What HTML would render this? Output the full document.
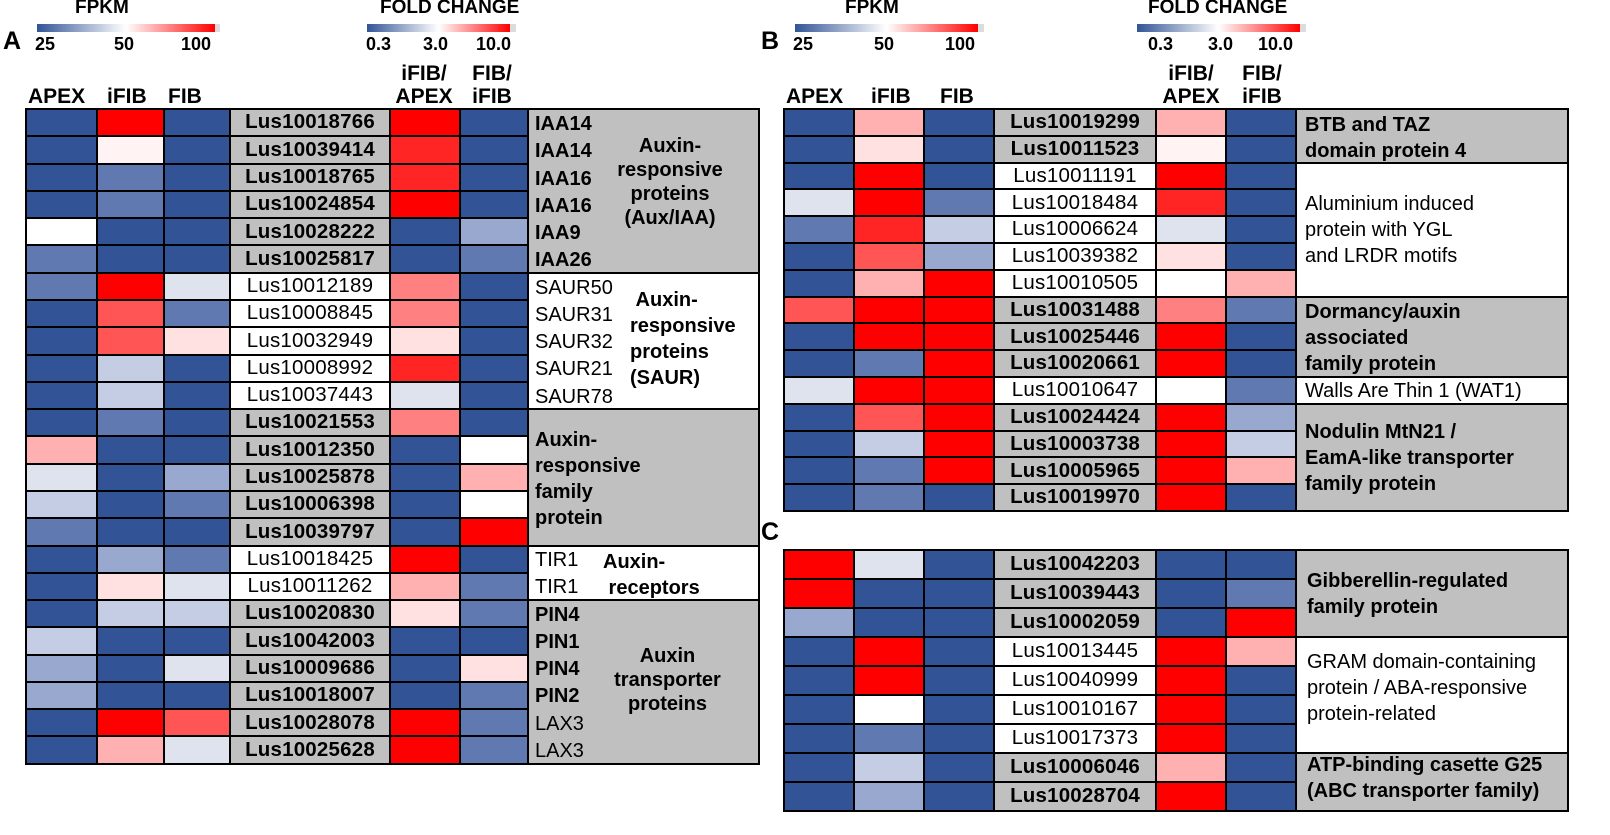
<!DOCTYPE html>
<html><head><meta charset="utf-8"><style>
body{margin:0;width:1610px;height:835px;background:#fff;position:relative;overflow:hidden;font-family:"Liberation Sans",Arial,sans-serif;color:#000}
.a{position:absolute;white-space:nowrap}
.b{font-weight:bold}
table{position:absolute;border-collapse:collapse;table-layout:fixed;border:2px solid #000}
td{border:2px solid #000;padding:0;text-align:center;font-size:20.5px;letter-spacing:.2px;line-height:1}
.d{background:#325496}.m{background:#6079b0}.l{background:#98a8cf}.k{background:#c4cde3}.e{background:#dfe3ee}.w{background:#fff}
.p{background:#ffe1e1}.q{background:#ffb0b0}.s{background:#ff5555}.r{background:#ff0000}.t{background:#ff2525}.u{background:#ff8080}.v{background:#fff3f3}
.g{background:#c0c0c0;font-weight:bold}.n{background:#fff;font-weight:normal}
.bar1{position:absolute;height:8px;background:linear-gradient(to right,#325496,#fff 50%,#ff0000)}
.t20{font-size:20px}
.lines div{height:27.25px;line-height:27.25px}
</style></head><body>

<!-- Legends A -->
<div class="a b" style="left:75px;top:-3px;font-size:19px">FPKM</div>
<div class="bar1" style="left:37px;top:24px;width:178px"></div><div class="a" style="left:215px;top:24px;width:5px;height:8px;background:#dcdcdc"></div>
<div class="a b" style="left:35px;top:34px;font-size:18px">25</div>
<div class="a b" style="left:114px;top:34px;font-size:18px">50</div>
<div class="a b" style="left:181px;top:34px;font-size:18px">100</div>
<div class="a b" style="left:380px;top:-3px;font-size:19px">FOLD CHANGE</div>
<div class="bar1" style="left:367px;top:24px;width:143px"></div><div class="a" style="left:510px;top:24px;width:6px;height:8px;background:#dcdcdc"></div>
<div class="a b" style="left:366px;top:34px;font-size:18px">0.3</div>
<div class="a b" style="left:423px;top:34px;font-size:18px">3.0</div>
<div class="a b" style="left:476px;top:34px;font-size:18px">10.0</div>
<div class="a b" style="left:3px;top:27px;font-size:25px">A</div>
<div class="a b" style="left:28px;top:85px;font-size:21px">APEX</div>
<div class="a b" style="left:107px;top:85px;font-size:21px">iFIB</div>
<div class="a b" style="left:168px;top:85px;font-size:21px">FIB</div>
<div class="a b" style="left:388px;top:62px;font-size:21px;text-align:center;line-height:23px;width:72px">iFIB/<br>APEX</div>
<div class="a b" style="left:457px;top:62px;font-size:21px;text-align:center;line-height:23px;width:70px">FIB/<br>iFIB</div>

<!-- Legends B -->
<div class="a b" style="left:845px;top:-3px;font-size:19px">FPKM</div>
<div class="bar1" style="left:795px;top:24px;width:183px"></div><div class="a" style="left:978px;top:24px;width:6px;height:8px;background:#dcdcdc"></div>
<div class="a b" style="left:793px;top:34px;font-size:18px">25</div>
<div class="a b" style="left:874px;top:34px;font-size:18px">50</div>
<div class="a b" style="left:945px;top:34px;font-size:18px">100</div>
<div class="a b" style="left:1148px;top:-3px;font-size:19px">FOLD CHANGE</div>
<div class="bar1" style="left:1137px;top:24px;width:163px"></div><div class="a" style="left:1300px;top:24px;width:6px;height:8px;background:#dcdcdc"></div>
<div class="a b" style="left:1148px;top:34px;font-size:18px">0.3</div>
<div class="a b" style="left:1208px;top:34px;font-size:18px">3.0</div>
<div class="a b" style="left:1258px;top:34px;font-size:18px">10.0</div>
<div class="a b" style="left:761px;top:27px;font-size:25px">B</div>
<div class="a b" style="left:786px;top:85px;font-size:21px">APEX</div>
<div class="a b" style="left:871px;top:85px;font-size:21px">iFIB</div>
<div class="a b" style="left:940px;top:85px;font-size:21px">FIB</div>
<div class="a b" style="left:1155px;top:62px;font-size:21px;text-align:center;line-height:23px;width:72px">iFIB/<br>APEX</div>
<div class="a b" style="left:1227px;top:62px;font-size:21px;text-align:center;line-height:23px;width:70px">FIB/<br>iFIB</div>
<div class="a b" style="left:761px;top:518px;font-size:25px">C</div>

<!-- Panel A -->
<table style="left:25px;top:108px;width:733px;height:657px">
<colgroup><col style="width:71px"><col style="width:67px"><col style="width:66px"><col style="width:160px"><col style="width:70px"><col style="width:68px"><col style="width:231px"></colgroup>
<tr><td class="d"></td><td class="r"></td><td class="d"></td><td class="g">Lus10018766</td><td class="r"></td><td class="d"></td><td class="g" rowspan="6"></td></tr>
<tr><td class="d"></td><td class="v"></td><td class="d"></td><td class="g">Lus10039414</td><td class="t"></td><td class="d"></td></tr>
<tr><td class="d"></td><td class="m"></td><td class="d"></td><td class="g">Lus10018765</td><td class="t"></td><td class="d"></td></tr>
<tr><td class="d"></td><td class="m"></td><td class="d"></td><td class="g">Lus10024854</td><td class="r"></td><td class="d"></td></tr>
<tr><td class="w"></td><td class="d"></td><td class="d"></td><td class="g">Lus10028222</td><td class="d"></td><td class="l"></td></tr>
<tr><td class="m"></td><td class="d"></td><td class="d"></td><td class="g">Lus10025817</td><td class="d"></td><td class="m"></td></tr>
<tr><td class="m"></td><td class="r"></td><td class="e"></td><td class="n">Lus10012189</td><td class="u"></td><td class="d"></td><td class="w" rowspan="5"></td></tr>
<tr><td class="d"></td><td class="s"></td><td class="m"></td><td class="n">Lus10008845</td><td class="u"></td><td class="d"></td></tr>
<tr><td class="d"></td><td class="s"></td><td class="p"></td><td class="n">Lus10032949</td><td class="p"></td><td class="d"></td></tr>
<tr><td class="d"></td><td class="k"></td><td class="d"></td><td class="n">Lus10008992</td><td class="t"></td><td class="d"></td></tr>
<tr><td class="d"></td><td class="k"></td><td class="d"></td><td class="n">Lus10037443</td><td class="e"></td><td class="d"></td></tr>
<tr><td class="d"></td><td class="m"></td><td class="d"></td><td class="g">Lus10021553</td><td class="u"></td><td class="d"></td><td class="g" rowspan="5"></td></tr>
<tr><td class="q"></td><td class="d"></td><td class="d"></td><td class="g">Lus10012350</td><td class="d"></td><td class="w"></td></tr>
<tr><td class="e"></td><td class="d"></td><td class="l"></td><td class="g">Lus10025878</td><td class="d"></td><td class="q"></td></tr>
<tr><td class="k"></td><td class="d"></td><td class="m"></td><td class="g">Lus10006398</td><td class="d"></td><td class="w"></td></tr>
<tr><td class="m"></td><td class="d"></td><td class="d"></td><td class="g">Lus10039797</td><td class="d"></td><td class="r"></td></tr>
<tr><td class="d"></td><td class="l"></td><td class="m"></td><td class="n">Lus10018425</td><td class="r"></td><td class="d"></td><td class="w" rowspan="2"></td></tr>
<tr><td class="d"></td><td class="p"></td><td class="e"></td><td class="n">Lus10011262</td><td class="q"></td><td class="m"></td></tr>
<tr><td class="d"></td><td class="k"></td><td class="k"></td><td class="g">Lus10020830</td><td class="p"></td><td class="m"></td><td class="g" rowspan="6"></td></tr>
<tr><td class="k"></td><td class="d"></td><td class="d"></td><td class="g">Lus10042003</td><td class="d"></td><td class="d"></td></tr>
<tr><td class="l"></td><td class="d"></td><td class="e"></td><td class="g">Lus10009686</td><td class="d"></td><td class="p"></td></tr>
<tr><td class="l"></td><td class="d"></td><td class="d"></td><td class="g">Lus10018007</td><td class="d"></td><td class="m"></td></tr>
<tr><td class="d"></td><td class="r"></td><td class="s"></td><td class="g">Lus10028078</td><td class="r"></td><td class="m"></td></tr>
<tr><td class="d"></td><td class="q"></td><td class="e"></td><td class="g">Lus10025628</td><td class="r"></td><td class="m"></td></tr>
</table>

<div class="a lines t20" style="left:535px;top:111px">
<div class="b">IAA14</div><div class="b">IAA14</div><div class="b">IAA16</div><div class="b">IAA16</div><div class="b">IAA9</div><div class="b">IAA26</div>
<div>SAUR50</div><div>SAUR31</div><div>SAUR32</div><div>SAUR21</div><div>SAUR78</div>
<div></div><div></div><div></div><div></div><div></div>
<div>TIR1</div><div>TIR1</div>
<div class="b">PIN4</div><div class="b">PIN1</div><div class="b">PIN4</div><div class="b">PIN2</div><div>LAX3</div><div>LAX3</div>
</div>
<div class="a b t20" style="left:605px;top:134px;width:130px;text-align:center;line-height:24px">Auxin-<br>responsive<br>proteins<br>(Aux/IAA)</div>
<div class="a b t20" style="left:630px;top:287px;line-height:26px">&nbsp;Auxin-<br>responsive<br>proteins<br>(SAUR)</div>
<div class="a b t20" style="left:535px;top:427px;line-height:26px">Auxin-<br>responsive<br>family<br>protein</div>
<div class="a b t20" style="left:603px;top:549px;line-height:26px">Auxin-<br>&nbsp;receptors</div>
<div class="a b t20" style="left:605px;top:644px;width:125px;text-align:center;line-height:24px">Auxin<br>transporter<br>proteins</div>

<!-- Panel B -->
<table style="left:783px;top:108px;width:784px;height:404px">
<colgroup><col style="width:70px"><col style="width:70px"><col style="width:70px"><col style="width:162px"><col style="width:70px"><col style="width:70px"><col style="width:272px"></colgroup>
<tr><td class="d"></td><td class="q"></td><td class="d"></td><td class="g">Lus10019299</td><td class="q"></td><td class="d"></td><td class="g" rowspan="2"></td></tr>
<tr><td class="d"></td><td class="p"></td><td class="d"></td><td class="g">Lus10011523</td><td class="v"></td><td class="d"></td></tr>
<tr><td class="d"></td><td class="r"></td><td class="d"></td><td class="n">Lus10011191</td><td class="r"></td><td class="d"></td><td class="w" rowspan="5"></td></tr>
<tr><td class="e"></td><td class="r"></td><td class="m"></td><td class="n">Lus10018484</td><td class="t"></td><td class="d"></td></tr>
<tr><td class="m"></td><td class="t"></td><td class="k"></td><td class="n">Lus10006624</td><td class="e"></td><td class="d"></td></tr>
<tr><td class="d"></td><td class="s"></td><td class="l"></td><td class="n">Lus10039382</td><td class="p"></td><td class="d"></td></tr>
<tr><td class="d"></td><td class="q"></td><td class="r"></td><td class="n">Lus10010505</td><td class="w"></td><td class="q"></td></tr>
<tr><td class="s"></td><td class="r"></td><td class="r"></td><td class="g">Lus10031488</td><td class="u"></td><td class="m"></td><td class="g" rowspan="3"></td></tr>
<tr><td class="d"></td><td class="r"></td><td class="r"></td><td class="g">Lus10025446</td><td class="r"></td><td class="d"></td></tr>
<tr><td class="d"></td><td class="m"></td><td class="r"></td><td class="g">Lus10020661</td><td class="r"></td><td class="d"></td></tr>
<tr><td class="e"></td><td class="r"></td><td class="r"></td><td class="n">Lus10010647</td><td class="w"></td><td class="m"></td><td class="w"></td></tr>
<tr><td class="d"></td><td class="s"></td><td class="r"></td><td class="g">Lus10024424</td><td class="r"></td><td class="l"></td><td class="g" rowspan="4"></td></tr>
<tr><td class="d"></td><td class="k"></td><td class="r"></td><td class="g">Lus10003738</td><td class="r"></td><td class="k"></td></tr>
<tr><td class="d"></td><td class="m"></td><td class="r"></td><td class="g">Lus10005965</td><td class="r"></td><td class="q"></td></tr>
<tr><td class="d"></td><td class="m"></td><td class="d"></td><td class="g">Lus10019970</td><td class="r"></td><td class="d"></td></tr>
</table>
<div class="a b t20" style="left:1305px;top:112px;line-height:26px">BTB and TAZ<br>domain protein 4</div>
<div class="a t20" style="left:1305px;top:191px;line-height:26px">Aluminium induced<br>protein with YGL<br>and LRDR motifs</div>
<div class="a b t20" style="left:1305px;top:299px;line-height:26px">Dormancy/auxin<br>associated<br>family protein</div>
<div class="a t20" style="left:1305px;top:378px;line-height:26px">Walls Are Thin 1 (WAT1)</div>
<div class="a b t20" style="left:1305px;top:419px;line-height:26px">Nodulin MtN21 /<br>EamA-like transporter<br>family protein</div>

<!-- Panel C -->
<table style="left:783px;top:549px;width:784px;height:263px">
<colgroup><col style="width:70px"><col style="width:70px"><col style="width:70px"><col style="width:162px"><col style="width:70px"><col style="width:70px"><col style="width:272px"></colgroup>
<tr><td class="r"></td><td class="e"></td><td class="d"></td><td class="g">Lus10042203</td><td class="d"></td><td class="d"></td><td class="g" rowspan="3"></td></tr>
<tr><td class="r"></td><td class="d"></td><td class="d"></td><td class="g">Lus10039443</td><td class="d"></td><td class="m"></td></tr>
<tr><td class="l"></td><td class="d"></td><td class="d"></td><td class="g">Lus10002059</td><td class="d"></td><td class="r"></td></tr>
<tr><td class="d"></td><td class="r"></td><td class="d"></td><td class="n">Lus10013445</td><td class="r"></td><td class="q"></td><td class="w" rowspan="4"></td></tr>
<tr><td class="d"></td><td class="r"></td><td class="d"></td><td class="n">Lus10040999</td><td class="r"></td><td class="d"></td></tr>
<tr><td class="d"></td><td class="w"></td><td class="d"></td><td class="n">Lus10010167</td><td class="r"></td><td class="d"></td></tr>
<tr><td class="d"></td><td class="m"></td><td class="d"></td><td class="n">Lus10017373</td><td class="r"></td><td class="d"></td></tr>
<tr><td class="d"></td><td class="k"></td><td class="d"></td><td class="g">Lus10006046</td><td class="q"></td><td class="d"></td><td class="g" rowspan="2"></td></tr>
<tr><td class="d"></td><td class="l"></td><td class="d"></td><td class="g">Lus10028704</td><td class="r"></td><td class="d"></td></tr>
</table>
<div class="a b t20" style="left:1307px;top:568px;line-height:26px">Gibberellin-regulated<br>family protein</div>
<div class="a t20" style="left:1307px;top:649px;line-height:26px">GRAM domain-containing<br>protein / ABA-responsive<br>protein-related</div>
<div class="a b t20" style="left:1307px;top:752px;line-height:26px">ATP-binding casette G25<br>(ABC transporter family)</div>
</body></html>
